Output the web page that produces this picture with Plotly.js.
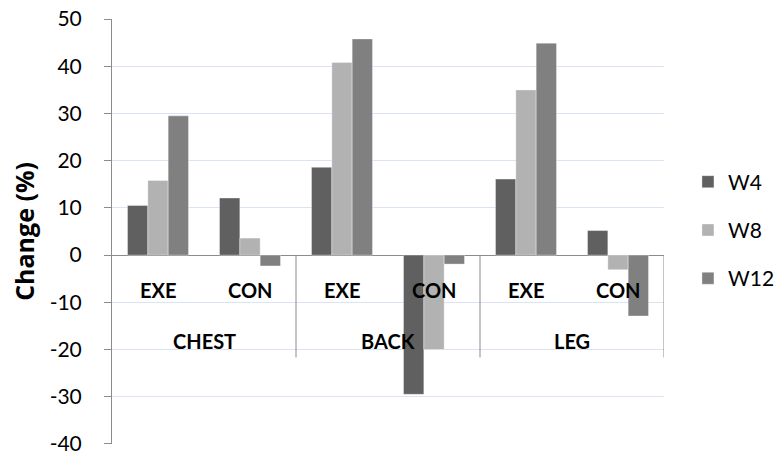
<!DOCTYPE html>
<html>
<head>
<meta charset="utf-8">
<script src="https://cdn.plot.ly/plotly-3.0.1.min.js"></script>
<style>
  html, body { margin: 0; padding: 0; background: #ffffff; }
  #chart { width: 780px; height: 455px; }
</style>
</head>
<body>
<div id="chart"></div>
<script>
// Body regions and training conditions (two-level category axis)
const regions = ['CHEST', 'BACK', 'LEG'];
const conditions = ['EXE', 'CON'];

// Percent change at week 4, 8 and 12, one value per region/condition pair
const w4 = [10.5, 12.1, 18.6, -29.5, 16.1, 5.2];
const w8 = [15.8, 3.6, 40.8, -20.0, 35.0, -3.1];
const w12 = [29.5, -2.3, 45.8, -1.9, 44.9, -12.9];

const seriesNames = ['W4', 'W8', 'W12'];
const seriesColors = ['#606060', '#b2b2b2', '#808080'];

const yTicks = [-40, -30, -20, -10, 0, 10, 20, 30, 40, 50];

// One unique key per bar slot: "REGION CONDITION"
const keys = [];
regions.forEach(r => conditions.forEach(c => keys.push(r + ' ' + c)));

const FONT = 'Lato, "Open Sans", sans-serif';
const TITLE_FONT = '"Open Sans", Lato, sans-serif';

const traces = [w4, w8, w12].map((vals, i) => ({
  type: 'bar',
  name: seriesNames[i],
  x: keys,
  y: vals,
  legendgroup: seriesNames[i],
  marker: { color: seriesColors[i], line: { color: 'rgba(255,255,255,0.35)', width: 1 } },
  hoverinfo: 'x+y+name'
}));

// Category labels drawn just under the zero line, Excel-style
const annotations = [];
keys.forEach((k, i) => {
  annotations.push({
    x: i, y: -7.4, xref: 'x', yref: 'y',
    text: conditions[i % conditions.length],
    showarrow: false,
    font: { family: FONT, size: 20, color: '#000000', weight: 'bold' },
    xanchor: 'center', yanchor: 'middle'
  });
});
regions.forEach((r, j) => {
  const mid = j * conditions.length + (conditions.length - 1) / 2;
  annotations.push({
    x: mid, y: -18.1, xref: 'x', yref: 'y',
    text: r,
    showarrow: false,
    font: { family: FONT, size: 20, color: '#000000', weight: 'bold' },
    xanchor: 'center', yanchor: 'middle'
  });
});

// Vertical dividers between region groups (and at the right end)
const shapes = [];
regions.forEach((r, j) => {
  const edge = (j + 1) * conditions.length - 0.5;
  shapes.push({
    type: 'line', xref: 'x', yref: 'y',
    x0: edge, x1: edge, y0: 0, y1: -21.7,
    line: { color: '#8c8c8c', width: 1 }
  });
});

const layout = {
  width: 780,
  height: 455,
  margin: { l: 112, r: 116, t: 19, b: 11, pad: 0 },
  paper_bgcolor: '#ffffff',
  plot_bgcolor: '#ffffff',
  font: { family: FONT, size: 21, color: '#000000' },
  barmode: 'group',
  bargap: 0.337,
  bargroupgap: 0,
  showlegend: true,
  legend: {
    xref: 'container', yref: 'container',
    x: 0.882, xanchor: 'left',
    y: 0.645, yanchor: 'top',
    font: { family: FONT, size: 21, color: '#000000' },
    tracegroupgap: 18,
    itemwidth: 30,
    borderwidth: 0,
    bgcolor: 'rgba(0,0,0,0)'
  },
  xaxis: {
    type: 'category',
    range: [-0.5, keys.length - 0.5],
    showticklabels: false,
    showgrid: false,
    showline: false,
    zeroline: false,
    ticks: '',
    fixedrange: true
  },
  yaxis: {
    range: [-40.02, 50.02],
    tickvals: yTicks,
    ticktext: yTicks.map(String),
    showgrid: true,
    gridcolor: '#dae2f3',
    gridwidth: 1,
    zeroline: true,
    zerolinecolor: '#8c8c8c',
    zerolinewidth: 1,
    showline: true,
    linecolor: '#8c8c8c',
    linewidth: 1,
    ticks: 'outside',
    ticklen: 7,
    tickcolor: '#8c8c8c',
    tickfont: { family: FONT, size: 21, color: '#000000' },
    ticklabelstandoff: 18,
    ticklabeloverflow: 'allow',
    title: {
      text: 'Change (%)',
      font: { family: TITLE_FONT, size: 25, color: '#000000', weight: 'bold' },
      standoff: 7
    },
    fixedrange: true
  },
  annotations: annotations,
  shapes: shapes
};

Plotly.newPlot('chart', traces, layout, { displayModeBar: false, staticPlot: true });
</script>
</body>
</html>
